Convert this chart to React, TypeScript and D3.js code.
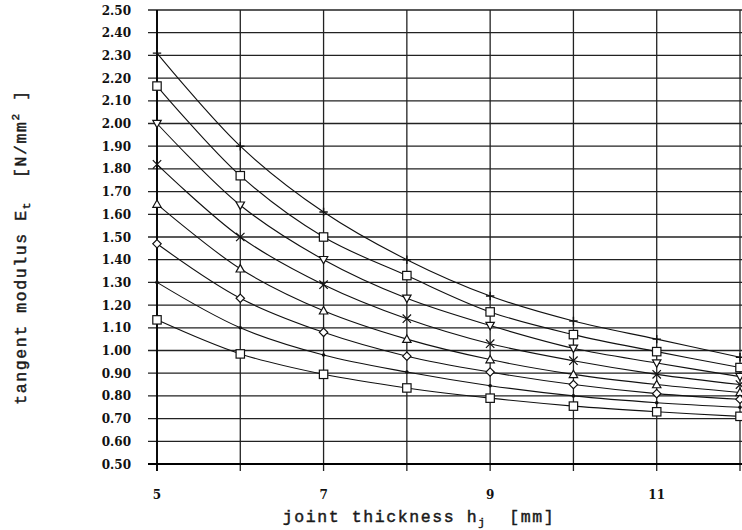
import React from 'react';
import * as d3 from 'd3';

// joint thickness values (mm)
const thickness = [5, 6, 7, 8, 9, 10, 11, 12];

// tangent modulus curves, top to bottom
const s1 = [2.31, 1.90, 1.61, 1.40, 1.24, 1.13, 1.05, 0.97];
const s2 = [2.165, 1.77, 1.50, 1.33, 1.17, 1.07, 0.995, 0.925];
const s3 = [2.00, 1.64, 1.40, 1.23, 1.11, 1.01, 0.945, 0.885];
const s4 = [1.82, 1.50, 1.29, 1.14, 1.03, 0.955, 0.895, 0.85];
const s5 = [1.645, 1.36, 1.175, 1.05, 0.96, 0.895, 0.85, 0.815];
const s6 = [1.47, 1.23, 1.08, 0.975, 0.905, 0.85, 0.81, 0.785];
const s7 = [1.30, 1.10, 0.98, 0.905, 0.845, 0.80, 0.77, 0.75];
const s8 = [1.135, 0.985, 0.895, 0.835, 0.79, 0.755, 0.73, 0.71];

const seriesList = [s1, s2, s3, s4, s5, s6, s7, s8];
const markerTypes = ['plus', 'square', 'tridown', 'cross', 'triangle', 'diamond', 'dot', 'square'];

const yTicks = d3.range(0.5, 2.501, 0.1);
const xLabels = [5, 7, 9, 11];

const W = 742;
const H = 530;

const x = d3.scaleLinear().domain([5, 12]).range([157, 740]);
const y = d3.scaleLinear().domain([0.5, 2.5]).range([464, 10]);

const line = d3.line<number>()
  .x((d, i) => x(thickness[i]))
  .y(d => y(d))
  .curve(d3.curveCatmullRom.alpha(0.5));

function Marker({ type, cx, cy }: { type: string; cx: number; cy: number }) {
  const s = 4.2;
  const common = { fill: 'white', stroke: '#111', strokeWidth: 1.2 };
  if (type === 'square')
    return <rect x={cx - s} y={cy - s} width={2 * s} height={2 * s} {...common} />;
  if (type === 'tridown')
    return <path d={`M${cx - s},${cy - s + 1}L${cx + s},${cy - s + 1}L${cx},${cy + s}Z`} {...common} />;
  if (type === 'triangle')
    return <path d={`M${cx - s},${cy + s - 1}L${cx + s},${cy + s - 1}L${cx},${cy - s}Z`} {...common} />;
  if (type === 'diamond')
    return <path d={`M${cx},${cy - s}L${cx + s},${cy}L${cx},${cy + s}L${cx - s},${cy}Z`} {...common} />;
  if (type === 'cross')
    return <path d={`M${cx - s},${cy - s}L${cx + s},${cy + s}M${cx - s},${cy + s}L${cx + s},${cy - s}`} stroke="#111" strokeWidth={1.2} />;
  if (type === 'plus')
    return <path d={`M${cx - s},${cy}L${cx + s},${cy}M${cx},${cy - s}L${cx},${cy + s}`} stroke="#111" strokeWidth={1.4} />;
  return <circle cx={cx} cy={cy} r={1.8} fill="#111" />;
}

export default function App() {
  const tickFont = { fontFamily: "'DejaVu Serif', serif", fontWeight: 'bold' as const, fontSize: 12, fill: '#111' };
  const titleFont = {
    fontFamily: "'Liberation Mono', monospace", fontSize: 16.5, fill: '#1a1a1a',
    stroke: '#1a1a1a', strokeWidth: 0.45, letterSpacing: 1.6,
  };
  return (
    <svg width={W} height={H} style={{ position: 'absolute', left: 0, top: 0, background: 'white' }}>
      <rect width={W} height={H} fill="white" />

      {/* horizontal grid */}
      {yTicks.map(t => (
        <line key={'h' + t.toFixed(2)} x1={148} x2={W} y1={y(t)} y2={y(t)} stroke="#222" strokeWidth={1.3} />
      ))}
      {/* vertical grid */}
      {thickness.map(t => (
        <line key={'v' + t} x1={x(t)} x2={x(t)} y1={y(2.5)} y2={471} stroke="#222" strokeWidth={1.3} />
      ))}
      <line x1={x(5)} x2={x(5)} y1={y(2.5)} y2={471} stroke="#000" strokeWidth={1.8} />
      <line x1={148} x2={W} y1={y(0.5)} y2={y(0.5)} stroke="#000" strokeWidth={1.8} />

      {/* y tick labels */}
      {yTicks.map(t => (
        <text key={'yl' + t.toFixed(2)} x={131} y={y(t) + 4.5} textAnchor="end" {...tickFont}>
          {t.toFixed(2)}
        </text>
      ))}
      {/* x tick labels */}
      {xLabels.map(t => (
        <text key={'xl' + t} x={x(t)} y={499} textAnchor="middle" {...tickFont}>
          {t}
        </text>
      ))}

      {/* curves */}
      {seriesList.map((s, i) => (
        <path key={'c' + i} d={line(s) || ''} fill="none" stroke="#111" strokeWidth={1.1} />
      ))}
      {seriesList.map((s, i) =>
        s.map((v, j) => (
          <Marker key={'m' + i + '-' + j} type={markerTypes[i]} cx={x(thickness[j])} cy={y(v)} />
        ))
      )}

      {/* axis titles */}
      <text x={419} y={522} textAnchor="middle" {...titleFont} xmlSpace="preserve">
        joint thickness h<tspan dy={4} fontSize={11}>j</tspan><tspan dy={-4}>{'  [mm]'}</tspan>
      </text>
      <text transform={`translate(26,247) rotate(-90)`} textAnchor="middle" {...titleFont} xmlSpace="preserve">
        tangent modulus E<tspan dy={4} fontSize={11}>t</tspan><tspan dy={-4}>{'  [N/mm'}</tspan><tspan dy={-7} fontSize={11}>2</tspan><tspan dy={7}>{' ]'}</tspan>
      </text>
    </svg>
  );
}
